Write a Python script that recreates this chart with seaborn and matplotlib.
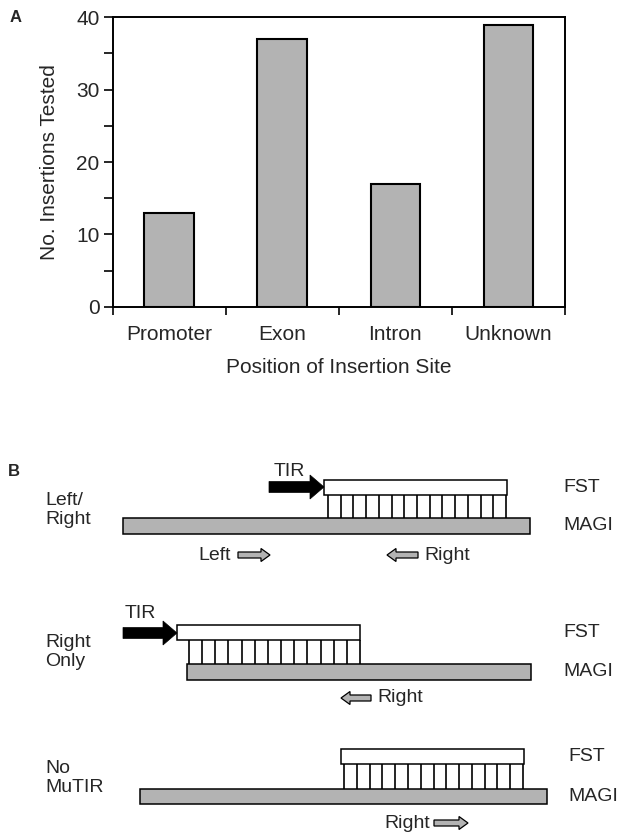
import numpy as np
import matplotlib
matplotlib.use('Agg')
import matplotlib.pyplot as plt
import matplotlib.patches as mpatches
import seaborn as sns

# Panel A data
categories = ["Promoter", "Exon", "Intron", "Unknown"]
counts = [13, 37, 17, 39]

# Panel B diagram rows (pixel coordinates of the schematic)
row_labels = ["Left/\nRight", "Right\nOnly", "No\nMuTIR"]
row_label_y = [510, 652, 778]
fst_span = [(324, 507), (177, 360), (341, 524)]
fst_y = [(480, 495), (625, 640), (749, 764)]
magi_span = [(123, 530), (187, 531), (140, 547)]
magi_y = [(518, 534), (664, 680), (789, 804)]
link_start = [328, 189, 344]
link_end = [506, 360, 523]
n_links = [15, 14, 15]
tir_arrow = [(269, 324, 487), (123, 177, 633), None]
tir_text = [(274, 472), (125, 614), None]
side_label_x = [563, 563, 568]
# primer arrows: (text, text_x, arrow_tail_x, arrow_tip_x, y)
primers = [
    ("Left", 198, 238, 270, 555),
    ("Right", 424, 418, 387, 555),
    ("Right", 377, 371, 341, 698),
    ("Right", 384, 434, 468, 823),
]

GREY = '#b3b3b3'
FS = 15
FSB = 14

sns.set_style("white")
plt.rcParams['font.family'] = ['Liberation Sans', 'DejaVu Sans']

fig = plt.figure(figsize=(6.19, 8.35), dpi=100)

# ---- Panel A ----
ax = fig.add_axes([112.7 / 619, 1 - 306.7 / 835, (565 - 112.7) / 619, (306.7 - 17.3) / 835])
sns.barplot(x=categories, y=counts, color=GREY, saturation=1, edgecolor='black',
            linewidth=1.5, width=0.44, ax=ax)
ax.set_xlim(-0.5, 3.5)
ax.set_ylim(0, 40)
ax.set_yticks(np.arange(0, 41, 10))
ax.set_yticks(np.arange(5, 40, 10), minor=True)
ax.set_xticks(np.arange(-0.5, 4, 1))
ax.set_xticklabels([])
ax.set_xticks(np.arange(4), minor=True)
ax.set_xticklabels(categories, minor=True)
ax.tick_params(axis='y', which='both', direction='out', length=6.5, width=1.4,
               labelsize=FS, pad=3, left=True)
ax.tick_params(axis='x', which='major', direction='out', length=6, width=1.4, bottom=True)
ax.tick_params(axis='x', which='minor', length=0, labelsize=FS, pad=13)
for s in ax.spines.values():
    s.set_visible(True)
    s.set_linewidth(1.4)
    s.set_color('black')
ax.set_ylabel("No. Insertions Tested", fontsize=FS, va='center')
ax.yaxis.set_label_coords(-0.139, 0.5)
ax.set_xlabel("Position of Insertion Site", fontsize=FS, va='center')
ax.xaxis.set_label_coords(0.5, -0.21)
fig.text(10 / 619, 1 - 18 / 835, "A", fontsize=12, fontweight='bold', va='center')

# ---- Panel B ----
axb = fig.add_axes([0, 0, 1, 1])
axb.set_xlim(0, 619)
axb.set_ylim(835, 0)
axb.axis('off')
axb.text(8, 472, "B", fontsize=12, fontweight='bold', va='center')

for i in range(3):
    axb.text(45, row_label_y[i], row_labels[i], fontsize=FSB, va='center', linespacing=1.2)
    x0, x1 = fst_span[i]
    y0, y1 = fst_y[i]
    axb.add_patch(mpatches.Rectangle((x0, y0), x1 - x0, y1 - y0, facecolor='white',
                                     edgecolor='black', lw=1.1, zorder=3))
    m0, m1 = magi_span[i]
    my0, my1 = magi_y[i]
    axb.add_patch(mpatches.Rectangle((m0, my0), m1 - m0, my1 - my0, facecolor=GREY,
                                     edgecolor='black', lw=1.1, zorder=3))
    xs = np.linspace(link_start[i], link_end[i], n_links[i])
    axb.vlines(xs, y1, my0, color='black', lw=1.2, zorder=2)
    axb.text(side_label_x[i], (y0 + y1) / 2, "FST", fontsize=FSB, va='center')
    axb.text(side_label_x[i], (my0 + my1) / 2, "MAGI", fontsize=FSB, va='center')
    if tir_arrow[i] is not None:
        a0, a1, ay = tir_arrow[i]
        axb.add_patch(mpatches.FancyArrow(a0, ay, a1 - a0, 0, width=11, head_width=24,
                                          head_length=14, length_includes_head=True,
                                          facecolor='black', edgecolor='black', lw=0.5, zorder=4))
        tx, ty = tir_text[i]
        axb.text(tx, ty, "TIR", fontsize=FSB, va='center')

for text, tx, tail, tip, py in primers:
    axb.add_patch(mpatches.FancyArrow(tail, py, tip - tail, 0, width=6, head_width=13,
                                      head_length=9, length_includes_head=True,
                                      facecolor=GREY, edgecolor='black', lw=0.9, zorder=4))
    axb.text(tx, py, text, fontsize=FSB, va='center')

fig.savefig("out.png", dpi=100)
